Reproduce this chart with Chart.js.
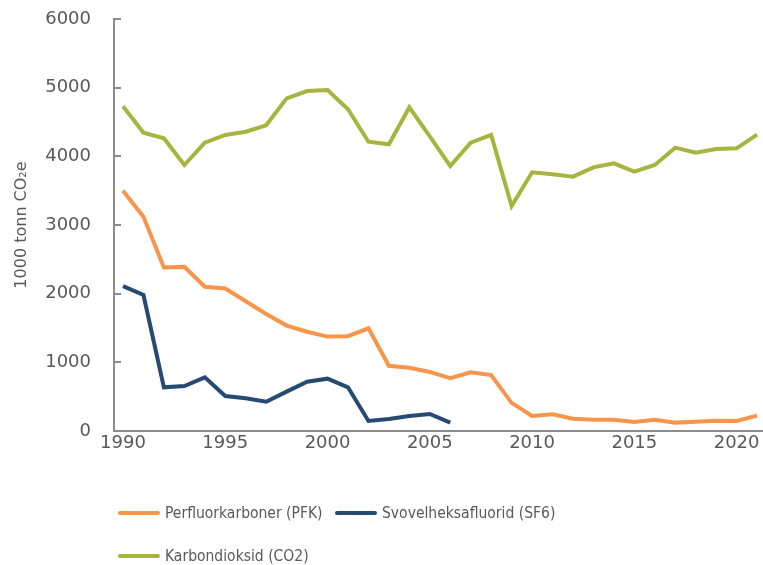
<!DOCTYPE html>
<html lang="no">
<head>
    <meta charset="UTF-8">
    <title>Utslipp PFK, SF6 og CO2</title>
    <style>
        body { margin: 0; background: #fff; }
        #wrap { position: relative; width: 763px; height: 565px; }
        #legend { position: absolute; left: 118px; top: 504px; font-family: "DejaVu Sans Condensed", "DejaVu Sans", sans-serif; font-size: 15.5px; color: #595959; }
        .item { position: absolute; white-space: nowrap; display: flex; align-items: center; }
        .item span.line { display: inline-block; width: 42px; height: 4px; border-radius: 2px; margin-right: 5px; }
    </style>
</head>
<body>
    <div id="wrap">
        <canvas id="myChart" width="763" height="565"></canvas>
        <div id="legend"></div>
    </div>

    <script src="https://cdn.jsdelivr.net/npm/chart.js"></script>

    <script>
        const years = [1990, 1991, 1992, 1993, 1994, 1995, 1996, 1997, 1998, 1999,
                       2000, 2001, 2002, 2003, 2004, 2005, 2006, 2007, 2008, 2009,
                       2010, 2011, 2012, 2013, 2014, 2015, 2016, 2017, 2018, 2019,
                       2020, 2021];
        const pfk = [3500, 3120, 2380, 2390, 2100, 2075, 1890, 1705, 1535, 1445,
                     1375, 1380, 1495, 950, 920, 860, 770, 855, 815, 410,
                     218, 243, 180, 165, 165, 132, 165, 122, 136, 150,
                     146, 223];
        const sf6 = [2110, 1980, 636, 655, 782, 510, 476, 427, 573, 718,
                     762, 636, 146, 175, 218, 248, 121];
        const co2 = [4730, 4344, 4262, 3874, 4199, 4311, 4359, 4452, 4845, 4951,
                     4966, 4685, 4213, 4175, 4714, 4290, 3859, 4199, 4311, 3277,
                     3767, 3738, 3704, 3840, 3898, 3777, 3874, 4126, 4053, 4107,
                     4117, 4315];
        const xTicks = [1990, 1995, 2000, 2005, 2010, 2015, 2020];
        const seriesNames = ['Perfluorkarboner (PFK)', 'Svovelheksafluorid (SF6)', 'Karbondioksid (CO2)'];
        const colors = ['#F7964A', '#264A72', '#A4B63E'];

        const toPoints = arr => arr.map((v, i) => ({ x: years[i], y: v }));
        const allData = [pfk, sf6, co2];

        let datasets = allData.map((d, i) => ({
            label: seriesNames[i],
            data: toPoints(d),
            borderColor: colors[i],
            backgroundColor: colors[i],
            borderWidth: 4,
            pointRadius: 0,
            tension: 0,
            borderJoinStyle: 'miter',
        }));

        const axisColor = '#8C8C8C';
        const tickFont = { family: 'DejaVu Sans', size: 18 };

        new Chart(document.getElementById('myChart'), {
            type: 'line',
            data: { datasets: datasets },
            options: {
                responsive: false,
                animation: false,
                layout: { padding: { top: 0, right: 0, bottom: 100, left: 0 } },
                plugins: {
                    legend: { display: false },
                    tooltip: { enabled: false },
                },
                scales: {
                    x: {
                        type: 'linear',
                        min: 1989.56,
                        max: 2021.29,
                        afterBuildTicks: scale => { scale.ticks = xTicks.map(v => ({ value: v })); },
                        afterFit: scale => { scale.height = 34; },
                        grid: { display: false, drawTicks: false },
                        border: { color: axisColor, width: 2 },
                        ticks: {
                            font: tickFont,
                            color: '#595959',
                            padding: 2,
                            maxRotation: 0,
                            callback: v => String(v),
                        },
                    },
                    y: {
                        min: 0,
                        max: 6000,
                        afterFit: scale => {
                            scale.width = 114;
                            scale.paddingTop = 19;
                            scale.paddingBottom = 0;
                        },
                        grid: { drawOnChartArea: false, drawTicks: true, tickLength: -7, color: axisColor, lineWidth: 2 },
                        border: { color: axisColor, width: 2 },
                        ticks: { stepSize: 1000, font: tickFont, color: '#595959', padding: 30, callback: v => String(v) },
                        title: {
                            display: true,
                            text: '1000 tonn CO₂e',
                            color: '#595959',
                            font: { family: 'DejaVu Sans', size: 16 },
                            padding: { top: 12, bottom: 0 },
                        },
                    },
                },
            },
        });

        // legend below the chart
        const legend = document.getElementById('legend');
        const legendPos = [[0, 0], [217, 0], [0, 43]];
        seriesNames.forEach((name, i) => {
            const el = document.createElement('div');
            el.className = 'item';
            el.style.left = legendPos[i][0] + 'px';
            el.style.top = legendPos[i][1] + 'px';
            el.innerHTML = '<span class="line" style="background:' + colors[i] + '"></span>' + name;
            legend.appendChild(el);
        });
    </script>
</body>
</html>
